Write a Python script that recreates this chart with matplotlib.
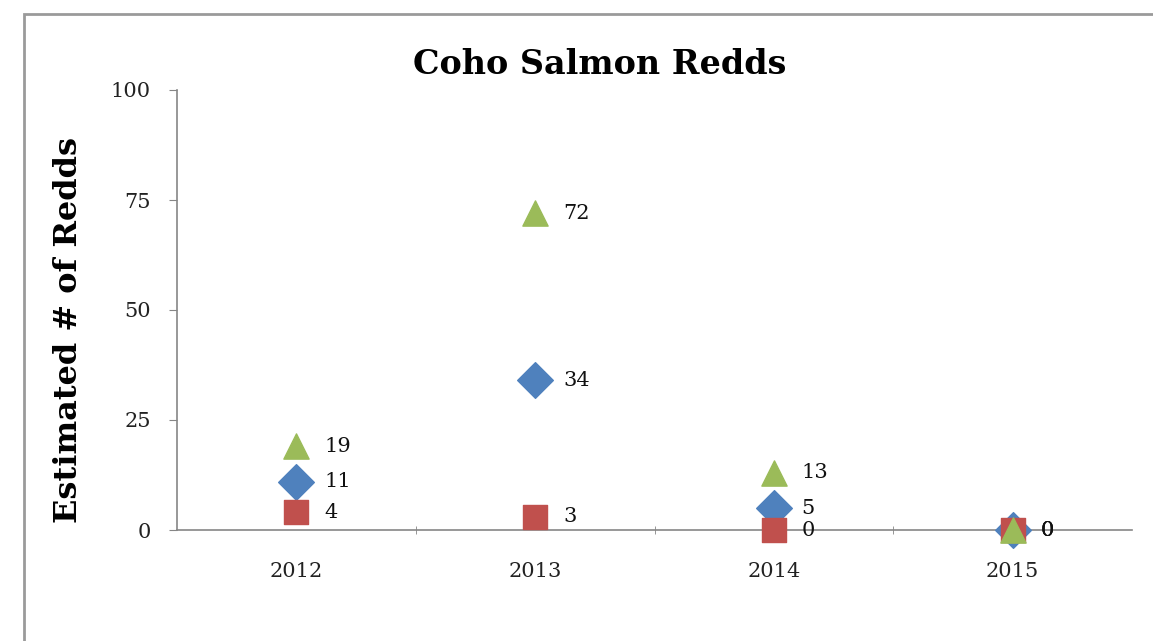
#!/usr/bin/python

'''
	Coho salmon redds per year, three series as markers with value labels.
'''

import matplotlib
matplotlib.use('Agg')
import matplotlib.pyplot as plt
from matplotlib.patches import Rectangle

years = ['2012', '2013', '2014', '2015']
squares = [4, 3, 0, 0]
diamonds = [11, 34, 5, 0]
triangles = [19, 72, 13, 0]
yticks = [0, 25, 50, 75, 100]

plt.rcParams['font.family'] = ['DejaVu Serif']


def plotData():
	fig = plt.figure(figsize=(11.53, 6.41), dpi=100)
	fig.patches.append(Rectangle((24 / 1153, -0.1), 1.2, 1 - 14 / 641 + 0.1,
		transform=fig.transFigure, fill=False, edgecolor='#9a9a9a', linewidth=2))
	ax = fig.add_axes([177 / 1153, 1 - 530 / 641, 955 / 1153, 440 / 641])

	x = list(range(len(years)))
	ax.scatter(x, diamonds, marker='D', s=330, color='#4F81BD', zorder=3, clip_on=False)
	ax.scatter(x, squares, marker='s', s=280, color='#C0504D', zorder=4, clip_on=False)
	ax.scatter(x, triangles, marker='^', s=330, color='#9BBB59', zorder=5, clip_on=False)

	for series in (squares, diamonds, triangles):
		for i, v in enumerate(series):
			ax.annotate(str(v), (i, v), xytext=(20, 0), textcoords='offset points',
				va='center', ha='left', fontsize=15, color='#111111')

	ax.set_xlim(-0.5, 3.5)
	ax.set_ylim(0, 100)
	ax.set_yticks(yticks)
	ax.set_xticks(x)
	ax.set_xticklabels(years)
	ax.set_xticks([0.5, 1.5, 2.5], minor=True)
	ax.tick_params(axis='x', which='major', length=0, pad=23, labelsize=15, labelcolor='#222222')
	ax.tick_params(axis='x', which='minor', length=6, direction='inout', color='#868686')
	ax.tick_params(axis='y', length=6, color='#868686', pad=13, labelsize=15, labelcolor='#222222')
	for s in ('top', 'right'):
		ax.spines[s].set_visible(False)
	for s in ('left', 'bottom'):
		ax.spines[s].set_color('#868686')
		ax.spines[s].set_linewidth(1.2)

	ax.set_ylabel('Estimated # of Redds', fontsize=23, fontweight='bold')
	ax.yaxis.set_label_coords(-0.097, 0.455)
	fig.text(600 / 1153, 1 - 65 / 641, 'Coho Salmon Redds', ha='center', va='center',
		fontsize=24, fontweight='bold')
	fig.savefig('out.png', dpi=100)


def main():
	plotData()


if __name__ == '__main__':
	main()
